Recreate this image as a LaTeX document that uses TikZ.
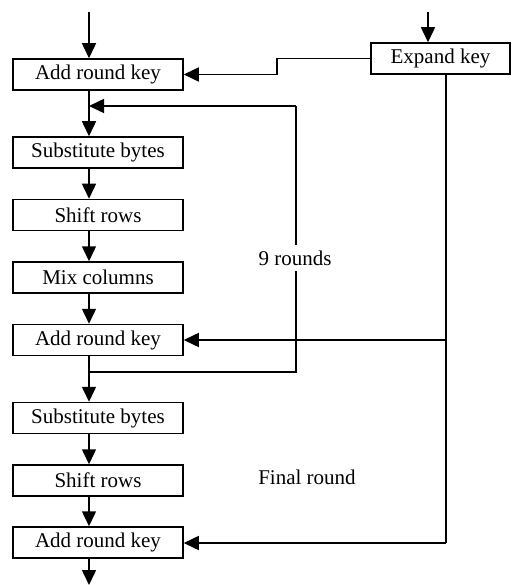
\documentclass[tikz,border=0pt]{standalone}
\usepackage{fontspec}
\setmainfont{Liberation Serif}
\usetikzlibrary{arrows.meta}
\begin{document}
\begin{tikzpicture}[x=1pt,y=-1pt,
  stepbox/.style={draw,line width=1.5pt,minimum width=170pt,minimum height=31pt,inner sep=0pt,
    font=\fontsize{21}{24}\selectfont},
  keybox/.style={stepbox,minimum width=139pt},
  lbl/.style={font=\fontsize{21}{24}\selectfont,inner sep=0pt},
  conn/.style={line width=1.5pt},
  arr/.style={conn,-{Triangle[length=15pt,width=14pt]}}]
\useasboundingbox (0,0) rectangle (511,585);
\node[stepbox] (b1) at (98,74.5) {Add round key};
\node[stepbox] (b2) at (98,152.5) {Substitute bytes};
\node[stepbox] (b3) at (98,215) {Shift rows};
\node[stepbox] (b4) at (98,277.5) {Mix columns};
\node[stepbox] (b5) at (98,340) {Add round key};
\node[stepbox] (b6) at (98,418) {Substitute bytes};
\node[stepbox] (b7) at (98,480.5) {Shift rows};
\node[stepbox] (b8) at (98,542.5) {Add round key};
\node[keybox] (ek) at (440.5,58.5) {Expand key};
\coordinate (in1) at (89,12);
\coordinate (in2) at (428,12);
\coordinate (out) at (89,585);
\coordinate (k1) at (277,67);
\coordinate (kx) at (446,543);
\coordinate (lt) at (296,106);
\coordinate (lb) at (296,372);
% main flow
\draw[arr] (in1) -- (b1.north -| in1);
\draw[arr] (b1.south -| in1) -- (b2.north -| in1);
\draw[arr] (b2.south -| in1) -- (b3.north -| in1);
\draw[arr] (b3.south -| in1) -- (b4.north -| in1);
\draw[arr] (b4.south -| in1) -- (b5.north -| in1);
\draw[arr] (b5.south -| in1) -- (b6.north -| in1);
\draw[arr] (b6.south -| in1) -- (b7.north -| in1);
\draw[arr] (b7.south -| in1) -- (b8.north -| in1);
\draw[arr] (b8.south -| in1) -- (out);
% key
\draw[arr] (in2) -- (ek.north -| in2);
\draw[arr] (ek.west) -| (k1) |- (b1.east);
\draw[conn] (ek.south -| kx) -- (kx);
\draw[arr] (kx |- b5.east) -- (b5.east);
\draw[arr] (kx) -- (b8.east |- kx);
% loop
\draw[conn] (lb -| in1) -- (lb) -- (lt);
\draw[arr] (lt) -- (lt -| in1);
\node[lbl,fill=white,inner ysep=6pt,inner xsep=2pt] (nr) at (295,258) {9 rounds};
\node[lbl] (fr) at (307,477) {Final round};
\end{tikzpicture}
\end{document}
